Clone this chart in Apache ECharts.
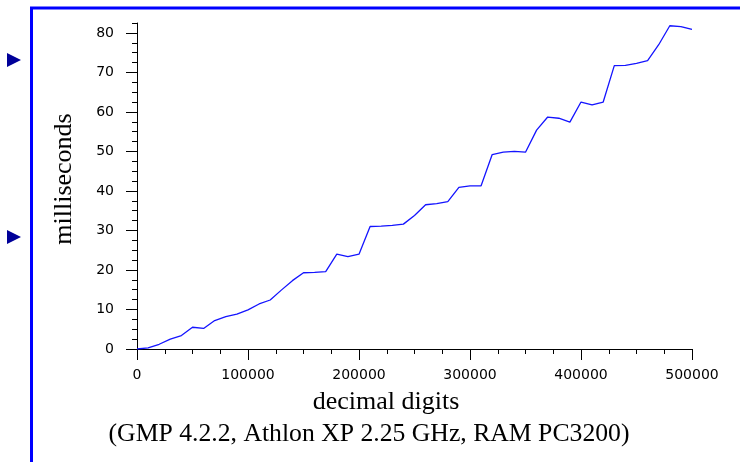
<!DOCTYPE html>
<html lang="en">
<head>
	<meta charset="UTF-8">
	<title></title>
	<script type="text/javascript" src="https://cdn.jsdelivr.net/npm/echarts@6/dist/echarts.min.js"></script>
	<style>
		html, body { margin: 0; padding: 0; background: #fff; }
		#chart { width: 740px; height: 462px; }
	</style>
</head>
<body>
	<div id="chart"></div>
	<script type="text/javascript">
		// decimal digits, every 10000
		var digits = [];
		for (var d = 0; d <= 500000; d += 10000) digits.push(d);
		// milliseconds
		var ms = [0, 0.3, 1.2, 2.5, 3.4, 5.5, 5.2, 7.2, 8.2, 8.8,
			9.9, 11.4, 12.4, 14.9, 17.3, 19.3, 19.4, 19.6, 24.0, 23.4,
			24.0, 31.0, 31.1, 31.3, 31.6, 33.8, 36.5, 36.8, 37.3, 40.9,
			41.3, 41.3, 49.2, 49.8, 50.0, 49.8, 55.4, 58.7, 58.4, 57.4,
			62.5, 61.8, 62.5, 71.7, 71.8, 72.3, 73.0, 77.0, 81.8, 81.6,
			80.9];
		var yMajorTicks = [0, 10, 20, 30, 40, 50, 60, 70, 80];
		var xName = 'decimal digits';
		var yName = 'milliseconds';
		var caption = '(GMP 4.2.2, Athlon XP 2.25 GHz, RAM PC3200)';

		var points = [];
		for (var i = 0; i < digits.length; i++) points.push([digits[i], ms[i]]);

		var tickFont = { color: '#000', fontFamily: 'DejaVu Sans', fontSize: 14 };
		var serif = 'Liberation Serif';

		var myChart = echarts.init(document.getElementById('chart'), null, { renderer: 'canvas' });
		var option = {
			animation: false,
			backgroundColor: '#fff',
			title: [{
				text: xName,
				left: 386,
				top: 389,
				textAlign: 'center',
				padding: 0,
				textStyle: { color: '#000', fontFamily: serif, fontSize: 26, fontWeight: 'normal' }
			}, {
				text: caption,
				left: 369,
				top: 421,
				textAlign: 'center',
				padding: 0,
				textStyle: { color: '#000', fontFamily: serif, fontSize: 25.7, fontWeight: 'normal' }
			}],
			grid: { left: 137, right: 48, top: 23, bottom: 113, containLabel: false },
			xAxis: {
				type: 'value',
				min: 0,
				max: 500000,
				interval: 100000,
				axisLine: { show: true, lineStyle: { color: '#000', width: 1 } },
				axisTick: { show: true, length: 11, lineStyle: { color: '#000' } },
				minorTick: { show: true, splitNumber: 4, length: 5, lineStyle: { color: '#000' } },
				splitLine: { show: false },
				axisLabel: Object.assign({
					margin: 19,
					formatter: function (v) { return String(v); }
				}, tickFont)
			},
			yAxis: [{
				type: 'value',
				min: 0,
				max: 82.5,
				interval: 2.5,
				axisLine: { show: true, lineStyle: { color: '#000', width: 1 } },
				axisTick: { show: true, length: 5, lineStyle: { color: '#000' } },
				splitLine: { show: false },
				axisLabel: { show: false }
			}, {
				type: 'value',
				position: 'left',
				min: 0,
				max: 82.5,
				interval: 2.5,
				axisLine: { show: false },
				axisTick: { show: true, length: 11, customValues: yMajorTicks, lineStyle: { color: '#000' } },
				splitLine: { show: false },
				axisLabel: Object.assign({ margin: 23, customValues: yMajorTicks }, tickFont)
			}],
			graphic: [{
				type: 'polyline',
				shape: { points: [[31.5, 462], [31.5, 8], [740, 8]] },
				style: { stroke: '#0000ff', lineWidth: 3, fill: null }
			}, {
				type: 'polygon',
				shape: { points: [[7, 53], [21, 60], [7, 67]] },
				style: { fill: '#000099' }
			}, {
				type: 'polygon',
				shape: { points: [[7, 230], [21, 237], [7, 244]] },
				style: { fill: '#000099' }
			}, {
				type: 'text',
				x: 77,
				y: 179,
				rotation: Math.PI / 2,
				style: {
					text: yName,
					fill: '#000',
					font: '26px "Liberation Serif"',
					textAlign: 'center',
					textVerticalAlign: 'bottom'
				}
			}],
			series: [{
				type: 'line',
				data: points,
				showSymbol: false,
				symbol: 'none',
				lineStyle: { color: '#1414ff', width: 1.3 },
				itemStyle: { color: '#1414ff' }
			}]
		};
		myChart.setOption(option);
	</script>
</body>
</html>
